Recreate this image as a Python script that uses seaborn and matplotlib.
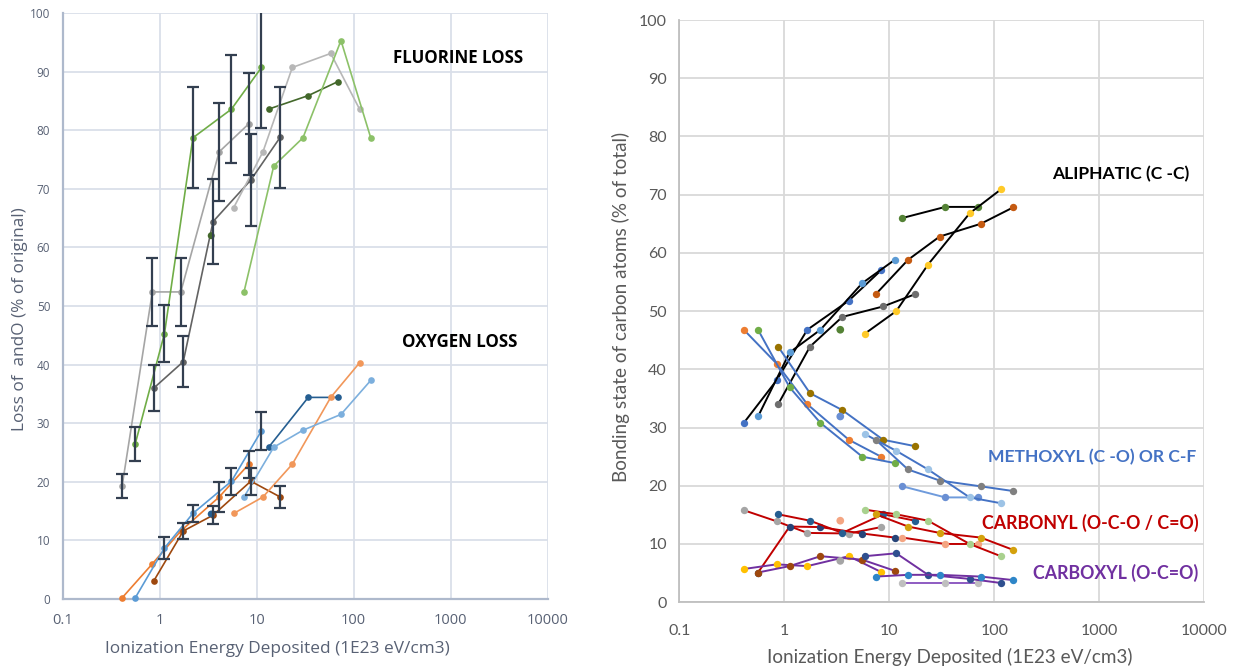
import matplotlib
matplotlib.use("Agg")
import matplotlib.pyplot as plt
from matplotlib.ticker import NullLocator
import seaborn as sns

# dose per sample (1E23 eV/cm3), same for both panels
dose_a = [0.41, 0.84, 1.65, 4.1, 8.3]
dose_b = [0.56, 1.12, 2.2, 5.5, 11.2]
dose_c = [0.87, 1.75, 3.55, 8.7, 17.5]
dose_d = [3.4, 13.3, 34, 69]
dose_e = [5.8, 11.6, 23.3, 58, 115]
dose_f = [7.4, 15, 30, 74, 150]

# left panel: loss of F (upper group) and O (lower group), % of original
f_loss_a = [19.3, 52.4, 52.4, 76.3, 81.1]
f_err_a = [2.1, 5.8, 5.8, 8.4, 8.7]
f_loss_b = [26.5, 45.3, 78.7, 83.6, 90.7]
f_err_b = [2.9, 4.9, 8.6, 9.2, 10.3]
f_loss_c = [36.0, 40.5, 64.4, 71.5, 78.8]
f_err_c = [3.9, 4.4, 7.2, 7.8, 8.6]
f_loss_d = [62.0, 83.6, 85.9, 88.3]
f_loss_e = [66.8, 76.3, 90.7, 93.1, 83.6]
f_loss_f = [52.4, 73.9, 78.7, 95.3, 78.7]

o_loss_a = [0.2, 6.0, 11.6, 17.4, 23.0]
o_err_a = [0, 0, 0, 2.6, 2.3]
o_loss_b = [0.2, 8.7, 14.6, 20.1, 28.7]
o_err_b = [0, 1.9, 1.5, 2.3, 3.2]
o_loss_c = [3.1, 11.6, 14.3, 20.1, 17.4]
o_err_c = [0, 1.3, 1.5, 2.3, 1.8]
o_loss_d = [14.5, 25.9, 34.4, 34.4]
o_loss_e = [14.6, 17.4, 23.0, 34.4, 40.3]
o_loss_f = [17.4, 25.9, 28.8, 31.5, 37.3]

# right panel: bonding state of carbon atoms (% of total)
aliph_a = [30.8, 38.1, 46.8, 51.8, 57.0]
aliph_b = [31.9, 42.9, 46.8, 54.8, 58.8]
aliph_c = [34.0, 43.9, 49.0, 50.8, 52.9]
aliph_d = [46.8, 66.0, 67.9, 67.9]
aliph_e = [46.1, 50.0, 58.0, 66.8, 70.9]
aliph_f = [52.9, 58.8, 62.8, 65.0, 67.8]

meth_a = [46.8, 41.0, 34.0, 27.9, 25.0]
meth_b = [46.8, 36.9, 30.8, 25.0, 23.9]
meth_c = [43.9, 35.9, 33.0, 27.9, 26.8]
meth_d = [31.9, 19.9, 18.0, 18.0]
meth_e = [28.9, 26.0, 22.8, 18.0, 17.0]
meth_f = [27.9, 22.8, 20.9, 19.9, 19.1]

carbonyl_a = [15.8, 13.9, 11.9, 11.8, 12.9]
carbonyl_b = [5.1, 13.0, 12.9, 11.8, 11.1]
carbonyl_c = [15.1, 14.0, 11.9, 15.1, 14.0]
carbonyl_d = [14.0, 11.1, 10.0, 10.0]
carbonyl_e = [15.9, 15.1, 14.0, 10.0, 7.9]
carbonyl_f = [15.1, 13.0, 11.9, 11.1, 9.0]

carboxyl_a = [5.7, 6.5, 6.2, 7.9, 5.2]
carboxyl_b = [5.1, 6.2, 7.9, 7.3, 5.4]
carboxyl_d = [7.1, 3.3, 3.3, 3.3]
carboxyl_e = [7.9, 8.4, 4.7, 4.0, 3.3]
carboxyl_f = [4.4, 4.7, 4.7, 4.4, 3.8]

x_ticks = [0.1, 1, 10, 100, 1000, 10000]
x_ticklabels = ["0.1", "1", "10", "100", "1000", "10000"]
y_ticks = list(range(0, 101, 10))

sns.set_theme(style="white")
plt.rcParams["font.family"] = ["Open Sans", "DejaVu Sans"]

fig = plt.figure(figsize=(12.37, 6.70), dpi=100)
ax1 = fig.add_axes([0.0507, 0.106, 0.392, 0.8746])
ax2 = fig.add_axes([0.5493, 0.1012, 0.4244, 0.8689])


def series(ax, x, y, line_color, mk_color=None, ms=4.8, lw=1.2, lone_first=False):
    mk_color = mk_color or line_color
    if lone_first:
        sns.scatterplot(x=x[:1], y=y[:1], ax=ax, color=mk_color, s=ms ** 2 * 1.1,
                        edgecolor="none", zorder=4, clip_on=False)
        x, y = x[1:], y[1:]
    sns.lineplot(x=x, y=y, ax=ax, color=line_color, marker="o", markersize=ms,
                 markerfacecolor=mk_color, markeredgecolor=mk_color,
                 markeredgewidth=0, linewidth=lw, estimator=None, sort=False,
                 errorbar=None, clip_on=False, zorder=3)


def bars(ax, x, y, err):
    keep = [i for i, e in enumerate(err) if e > 0]
    ax.errorbar([x[i] for i in keep], [y[i] for i in keep], yerr=[err[i] for i in keep],
                fmt="none", ecolor="#333F50", elinewidth=1.6, capsize=4, capthick=1.6,
                zorder=5)


# ---- left panel
series(ax1, dose_a, f_loss_a, "#A5A5A5")
series(ax1, dose_b, f_loss_b, "#70AD47")
series(ax1, dose_c, f_loss_c, "#636363")
series(ax1, dose_d, f_loss_d, "#43682B", lone_first=True)
series(ax1, dose_e, f_loss_e, "#B7B7B7")
series(ax1, dose_f, f_loss_f, "#8CC168")
series(ax1, dose_a, o_loss_a, "#ED7D31")
series(ax1, dose_b, o_loss_b, "#5B9BD5")
series(ax1, dose_c, o_loss_c, "#9E480E")
series(ax1, dose_d, o_loss_d, "#255E91", lone_first=True)
series(ax1, dose_e, o_loss_e, "#F1975A")
series(ax1, dose_f, o_loss_f, "#7CAFDD")
bars(ax1, dose_a, f_loss_a, f_err_a)
bars(ax1, dose_b, f_loss_b, f_err_b)
bars(ax1, dose_c, f_loss_c, f_err_c)
bars(ax1, dose_a, o_loss_a, o_err_a)
bars(ax1, dose_b, o_loss_b, o_err_b)
bars(ax1, dose_c, o_loss_c, o_err_c)

left_txt = "#586174"
ax1.text(0.815, 0.923, "FLUORINE LOSS", transform=ax1.transAxes, ha="center", va="center",
         fontsize=12.2, fontweight="bold", color="black")
ax1.text(0.819, 0.439, "OXYGEN LOSS", transform=ax1.transAxes, ha="center", va="center",
         fontsize=12.2, fontweight="bold", color="black")

# ---- right panel
groups = [
    ("black", [aliph_a, aliph_b, aliph_c, aliph_d, aliph_e, aliph_f],
     ["#4472C4", "#5B9BD5", "#6E6E6E", "#548235", "#FFCA28", "#C55A11"]),
    ("#4472C4", [meth_a, meth_b, meth_c, meth_d, meth_e, meth_f],
     ["#ED7D31", "#70AD47", "#997300", "#6A8FD3", "#9DC3E6", "#808080"]),
    ("#C00000", [carbonyl_a, carbonyl_b, carbonyl_c, carbonyl_d, carbonyl_e, carbonyl_f],
     ["#A5A5A5", "#264478", "#255E91", "#F4A582", "#A9D18E", "#D4A10C"]),
]
doses = [dose_a, dose_b, dose_c, dose_d, dose_e, dose_f]
for line_color, vals, mks in groups:
    for i, (x, y, mk) in enumerate(zip(doses, vals, mks)):
        lc = line_color
        if i == 3 and line_color == "#4472C4":
            lc = "#6F9BDC"
        series(ax2, x, y, lc, mk, ms=5.3, lw=1.4, lone_first=(i == 3))

series(ax2, dose_a, carboxyl_a, "#7030A0", "#FFC000", ms=5.3, lw=1.4)
series(ax2, dose_b, carboxyl_b, "#7030A0", "#9E480E", ms=5.3, lw=1.4)
sns.scatterplot(x=dose_d[:1], y=carboxyl_d[:1], ax=ax2, color="#A5A5A5", s=31,
                edgecolor="none", zorder=4)
series(ax2, dose_d[1:], carboxyl_d[1:], "#8E5BC2", "#BFBFBF", ms=5.3, lw=1.4)
series(ax2, dose_e, carboxyl_e, "#7030A0", "#2F4F8F", ms=5.3, lw=1.4)
series(ax2, dose_f, carboxyl_f, "#7030A0", "#2E86C8", ms=5.3, lw=1.4)

lab = dict(transform=ax2.transAxes, ha="right", va="center", fontweight="bold",
           family=["Lato", "DejaVu Sans"])
ax2.text(0.972, 0.735, "ALIPHATIC (C -C)", color="black", fontsize=12.6, **lab)
ax2.text(0.984, 0.249, "METHOXYL (C -O) OR C-F", color="#4472C4", fontsize=12.6, **lab)
ax2.text(0.989, 0.136, "CARBONYL (O-C-O / C=O)", color="#C00000", fontsize=12.8, **lab)
ax2.text(0.989, 0.050, "CARBOXYL (O-C=O)", color="#7030A0", fontsize=12.8, **lab)

# ---- axes styling
for ax in (ax1, ax2):
    ax.set_xscale("log")
    ax.set_xlim(0.1, 10000)
    ax.set_ylim(0, 100)
    ax.set_xticks(x_ticks)
    ax.set_xticklabels(x_ticklabels)
    ax.xaxis.set_minor_locator(NullLocator())
    ax.set_yticks(y_ticks)
    for s in ("top", "right"):
        ax.spines[s].set_visible(False)
    ax.set_axisbelow(True)

ax1.grid(True, color="#DADFE9", linewidth=1.3)
for s in ("left", "bottom"):
    ax1.spines[s].set_color("#AEB9CC")
    ax1.spines[s].set_linewidth(1.6)
ax1.tick_params(axis="y", length=0, pad=9, labelsize=8.5, labelcolor=left_txt)
ax1.tick_params(axis="x", length=0, pad=10, labelsize=10.5, labelcolor=left_txt)
ax1.set_xlabel("Ionization Energy Deposited (1E23 eV/cm3)", fontsize=12.4, color=left_txt, va="center")
ax1.set_ylabel("Loss of  andO (% of original)", fontsize=12.4, color=left_txt, va="center")
ax1.xaxis.set_label_coords(0.442, -0.085)
ax1.yaxis.set_label_coords(-0.088, 0.478)

right_txt = "#595959"
ax2.grid(True, color="#D9D9D9", linewidth=1.3)
for s in ("left", "bottom"):
    ax2.spines[s].set_color("#BFBFBF")
    ax2.spines[s].set_linewidth(1.3)
for lbl in ax2.get_xticklabels() + ax2.get_yticklabels():
    lbl.set_family(["Lato", "DejaVu Sans"])
ax2.tick_params(axis="y", length=0, pad=9, labelsize=11.5, labelcolor=right_txt)
ax2.tick_params(axis="x", length=0, pad=16, labelsize=11.5, labelcolor=right_txt)
ax2.set_xlabel("Ionization Energy Deposited (1E23 eV/cm3)", fontsize=13.6, color=right_txt,
               va="center", family=["Lato", "DejaVu Sans"])
ax2.set_ylabel("Bonding state of carbon atoms (% of total)", fontsize=13.6, color=right_txt,
               va="center", family=["Lato", "DejaVu Sans"])
ax2.xaxis.set_label_coords(0.515, -0.094)
ax2.yaxis.set_label_coords(-0.111, 0.508)

fig.savefig("out.png", dpi=100)
